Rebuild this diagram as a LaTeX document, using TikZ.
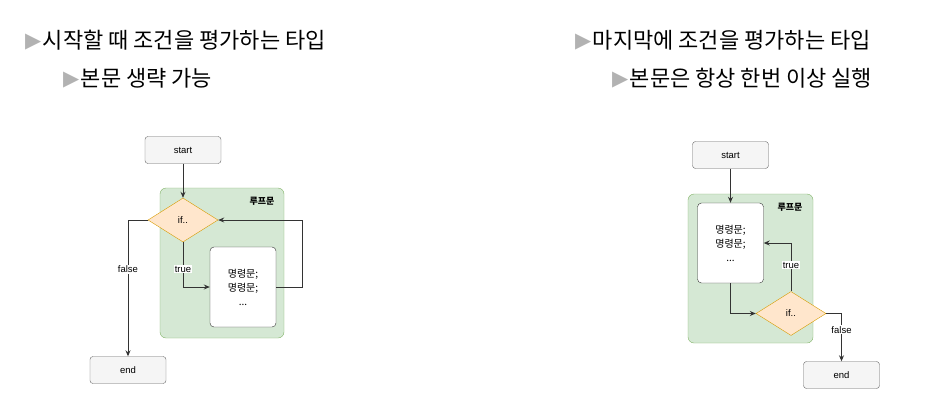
\documentclass[tikz,border=0pt]{standalone}
\usepackage{fontspec}
\setmainfont{Liberation Sans}
\newfontfamily\kr{Noto Sans CJK KR}
\newfontfamily\sym{DejaVu Sans}
\usetikzlibrary{shapes.geometric,arrows.meta}
\definecolor{loopfill}{HTML}{D5E8D4}
\definecolor{loopline}{HTML}{82B366}
\definecolor{condfill}{HTML}{FFE6CC}
\definecolor{condline}{HTML}{D79B00}
\definecolor{termfill}{HTML}{F5F5F5}
\definecolor{termline}{HTML}{666666}
\newcommand{\headbullet}{\raisebox{1pt}{\sym\fontsize{21}{21}\selectfont\color{gray!60}▶}\kern1.5pt}

\begin{document}
\begin{tikzpicture}[x=1pt,y=-1pt,
  terminal/.style={draw=termline,fill=termfill,rounded corners=3pt,
    minimum width=76pt,minimum height=27pt,font=\fontsize{9.5}{11}\selectfont},
  loopbox/.style={draw=loopline,fill=loopfill,rounded corners=6pt},
  looptag/.style={font=\kr\bfseries\fontsize{9}{10}\selectfont},
  cond/.style={diamond,draw=condline,fill=condfill,inner sep=0pt,
    minimum width=70pt,minimum height=44pt,font=\fontsize{9.5}{11}\selectfont},
  body/.style={draw=black!80,fill=white,rounded corners=4pt,align=center,
    minimum width=66pt,minimum height=80pt,font=\kr\fontsize{10}{14}\selectfont},
  heading/.style={anchor=west,inner sep=0pt,font=\kr\fontsize{22}{26}\selectfont},
  flow/.style={draw=black!80,line width=0.9pt,-{Stealth[length=6pt,width=5pt]}},
  tag/.style={fill=white,inner sep=1pt,font=\fontsize{9.5}{11}\selectfont}]
  \useasboundingbox (0,0) rectangle (930,413);

  % headings
  \node[heading] (headA) at (25,40) {\headbullet 시작할 때 조건을 평가하는 타입};
  \node[heading] (subA) at (63,78) {\headbullet 본문 생략 가능};
  \node[heading] (headB) at (575,40) {\headbullet 마지막에 조건을 평가하는 타입};
  \node[heading] (subB) at (612,78) {\headbullet 본문은 항상 한번 이상 실행};

  % check first
  \node[loopbox,minimum width=124pt,minimum height=150pt] (loopA) at (222,263) {};
  \node[looptag] (tagA) at (262,201) {루프문};
  \node[terminal] (startA) at (183,150) {start};
  \node[cond] (ifA) at (183,220) {if..};
  \node[body] (bodyA) at (243,287) {명령문;\\명령문;\\...};
  \node[terminal] (endA) at (128,370) {end};

  \draw[flow] (startA) -- (ifA);
  \draw[flow] (ifA.south) |- (bodyA.west) node[tag,pos=0.3] {true};
  \draw[flow] (bodyA.east) -- ++(26,0) |- (ifA.east);
  \draw[flow] (ifA.west) -| (endA.north) node[tag,pos=0.68] {false};

  % check last
  \node[loopbox,minimum width=125pt,minimum height=149pt] (loopB) at (750.5,268.5) {};
  \node[looptag] (tagB) at (790,207) {루프문};
  \node[terminal] (startB) at (730.5,155) {start};
  \node[body] (bodyB) at (730.5,243) {명령문;\\명령문;\\...};
  \node[cond] (ifB) at (791,313.5) {if..};
  \node[terminal] (endB) at (841.5,375) {end};

  \draw[flow] (startB) -- (bodyB);
  \draw[flow] (bodyB.south) |- (ifB.west);
  \draw[flow] (ifB.north) |- (bodyB.east) node[tag,pos=0.27] {true};
  \draw[flow] (ifB.east) -| (endB.north) node[tag,pos=0.67] {false};
\end{tikzpicture}
\end{document}
